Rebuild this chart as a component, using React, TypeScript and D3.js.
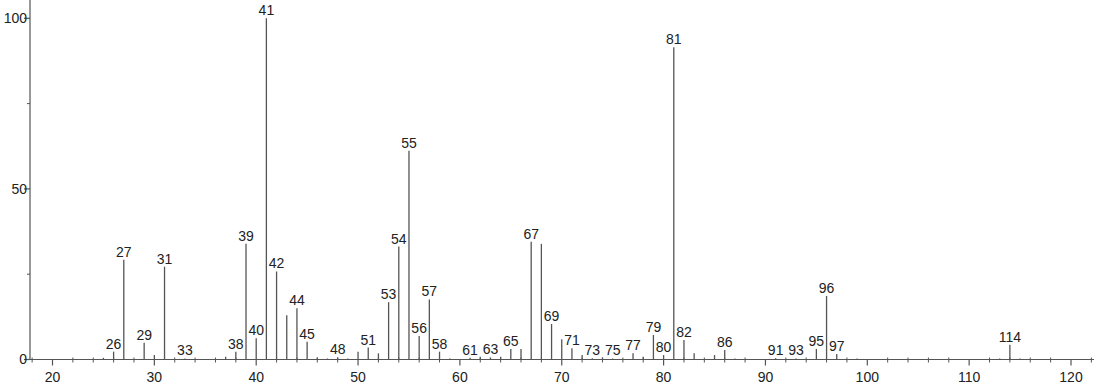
import React from "react";
import * as d3 from "d3";

const masses = [25, 26, 27, 29, 30, 31, 33, 37, 38, 39, 40, 41, 42, 43, 44, 45, 46, 47, 48, 49, 50, 51, 52, 53, 54, 55, 56, 57, 58, 59, 61, 62, 63, 64, 65, 66, 67, 68, 69, 70, 71, 72, 73, 74, 75, 77, 78, 79, 80, 81, 82, 83, 85, 86, 87, 91, 93, 95, 96, 97, 99, 113, 114, 115];
const intensities = [0.5, 2.3, 29.2, 4.9, 1.3, 27.2, 0.3, 0.8, 2.3, 33.9, 6.2, 100, 25.8, 13.0, 15.0, 5.2, 0.6, 0.3, 0.6, 0.3, 2.3, 3.5, 1.8, 16.8, 33.1, 61.2, 6.9, 17.6, 2.3, 0.3, 0.5, 0.8, 0.6, 0.8, 3.1, 3.1, 34.5, 33.9, 10.4, 5.9, 3.3, 1.3, 0.4, 0.6, 0.3, 1.8, 0.8, 7.2, 1.3, 91.5, 5.7, 1.8, 1.3, 2.8, 0.3, 0.4, 0.3, 3.1, 18.6, 1.6, 0.3, 0.3, 4.3, 0.3];
const labeledMasses = [26, 27, 29, 31, 33, 38, 39, 40, 41, 42, 44, 45, 48, 51, 53, 54, 55, 56, 57, 58, 61, 63, 65, 67, 69, 71, 73, 75, 77, 79, 80, 81, 82, 86, 91, 93, 95, 96, 97, 114];
const xTickValues = [20, 30, 40, 50, 60, 70, 80, 90, 100, 110, 120];
const xMinorTicks = [18, 22, 24, 26, 28, 32, 34, 36, 38, 42, 44, 46, 48, 52, 54, 56, 58, 62, 64, 66, 68, 72, 74, 76, 78, 82, 84, 86, 88, 92, 94, 96, 98, 102, 104, 106, 108, 112, 114, 116, 118, 122];
const yTickValues = [0, 50, 100];
const yMinorTicks = [25, 75];

const W = 1094;
const H = 384;
const axisX = 30;
const font = "'Liberation Sans', Arial, sans-serif";

export default function App() {
  const x = d3.scaleLinear().domain([20, 120]).range([52.5, 1071]);
  const y = d3.scaleLinear().domain([0, 100]).range([359.5, 18.3]);
  const y0 = y(0);
  const lookup = new Map(masses.map((m, i) => [m, intensities[i]]));

  return (
    <svg width={W} height={H} style={{ position: "absolute", left: 0, top: 0, background: "#fff" }} fontFamily={font}>
      {/* y axis */}
      <line x1={axisX} x2={axisX} y1={0} y2={y0} stroke="#555" strokeWidth={1.2} />
      {yTickValues.map((v) => (
        <g key={"yt" + v}>
          <line x1={axisX - 6} x2={axisX} y1={y(v)} y2={y(v)} stroke="#555" strokeWidth={1.2} />
          <text x={axisX - 3} y={y(v)} dy="0.35em" textAnchor="end" fontSize={14} fill="#222">{v}</text>
        </g>
      ))}
      {yMinorTicks.map((v) => (
        <line key={"ym" + v} x1={axisX - 3} x2={axisX} y1={y(v)} y2={y(v)} stroke="#555" strokeWidth={1} />
      ))}
      {/* x axis */}
      <line x1={axisX} x2={W} y1={y0} y2={y0} stroke="#555" strokeWidth={1.2} />
      {xTickValues.map((v) => (
        <g key={"xt" + v}>
          <line x1={x(v)} x2={x(v)} y1={y0} y2={y0 + 6} stroke="#555" strokeWidth={1.2} />
          <text x={x(v)} y={382} textAnchor="middle" fontSize={14} fill="#222">{v}</text>
        </g>
      ))}
      {xMinorTicks.map((v) => (
        <line key={"xm" + v} x1={x(v)} x2={x(v)} y1={y0 - 2} y2={y0 + 3} stroke="#555" strokeWidth={1} />
      ))}
      {/* peaks */}
      {masses.map((m, i) => (
        <line key={"p" + m} x1={x(m)} x2={x(m)} y1={y0} y2={y(intensities[i])} stroke="#555" strokeWidth={1.3} />
      ))}
      {labeledMasses.map((m) => (
        <text key={"l" + m} x={x(m)} y={y(lookup.get(m) ?? 0) - 3} textAnchor="middle" fontSize={14} fill="#222">{m}</text>
      ))}
    </svg>
  );
}
